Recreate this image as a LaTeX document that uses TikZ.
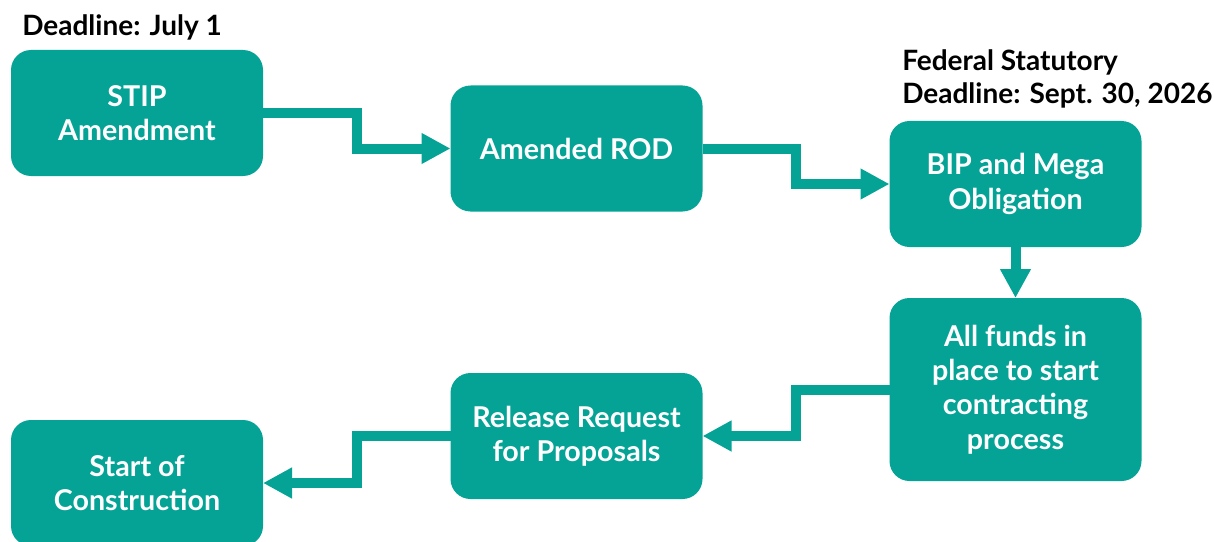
\documentclass[tikz,border=0pt]{standalone}
\usepackage{fontspec}
\setmainfont{Lato}
\usetikzlibrary{arrows.meta,calc}
\definecolor{teal}{RGB}{4,163,150}
\tikzset{
  stepbox/.style={fill=teal, rounded corners=15pt, minimum width=189pt,
    minimum height=94.5pt, outer sep=0pt, text=white, align=center,
    font=\fontsize{21.5}{25.8}\selectfont\bfseries},
  flow/.style={draw=teal, line width=7.5pt, -{Triangle[length=21.75pt,width=21.75pt]}},
  note/.style={align=left, anchor=north west, inner sep=0pt,
    font=\fontsize{21}{24.75}\selectfont\bfseries}
}
\begin{document}
\begin{tikzpicture}[x=0.75pt, y=-0.75pt]
    \useasboundingbox (0, 0) rectangle (1214, 542);
    % top row
    \node [stepbox] (stip) at (137, 113) {STIP\\Amendment};
    \node [stepbox] (rod) at (576.5, 148.5) {Amended ROD};
    \node [stepbox] (bip) at (1015.5, 184) {BIP and Mega\\Obligation};
    % bottom row
    \node [stepbox, minimum height=137.25pt] (funds) at (1015.5, 389.5) {All funds in\\place to start\\contracting\\process};
    \node [stepbox] (rfp) at (576.5, 436) {Release Request\\for Proposals};
    \node [stepbox] (build) at (137, 483) {Start of\\Construction};

    \node [note] (julyline) at (22, 14) {Deadline: July 1};
    \node [note] (fedline) at (902, 49) {Federal Statutory\\Deadline: Sept. 30, 2026};

    \draw [flow] (stip.east) -| ($(stip.east)!0.5!(rod.west)$) |- (rod.west);
    \draw [flow] (rod.east) -| ($(rod.east)!0.5!(bip.west)$) |- (bip.west);
    \draw [flow] (bip.south) -- (funds.north);
    \draw [flow] (funds.west) -| ($(funds.west)!0.5!(rfp.east)$) |- (rfp.east);
    \draw [flow] (rfp.west) -| ($(rfp.west)!0.5!(build.east)$) |- (build.east);
\end{tikzpicture}
\end{document}
